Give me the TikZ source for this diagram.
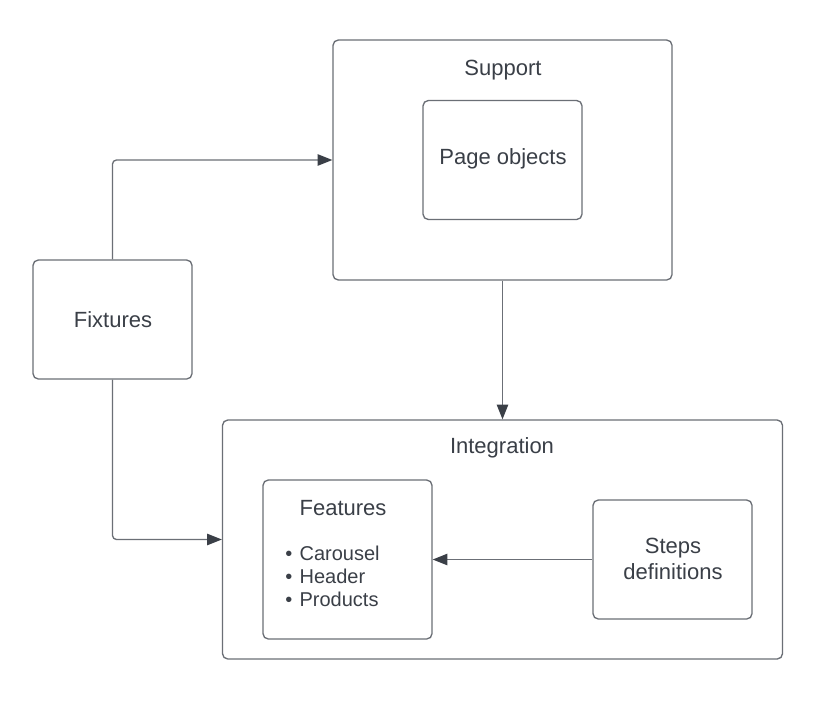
\documentclass[tikz,border=0pt]{standalone}
\usepackage{fontspec}
\setmainfont{Liberation Sans}
\usetikzlibrary{arrows.meta}
\definecolor{linec}{HTML}{6B6F76}
\definecolor{tipc}{HTML}{3A3F47}
\definecolor{textc}{HTML}{3A3F47}
\tikzset{
  box/.style={draw=linec, line width=1pt, rounded corners=4pt, rectangle, inner sep=0pt},
  conn/.style={draw=linec, line width=1pt, rounded corners=3pt, -{Triangle[length=11pt,width=8.5pt,fill=tipc,color=tipc]}},
  lbl/.style={text=textc, font=\fontsize{16.5}{19.5}\selectfont, inner sep=0pt, align=center},
  item/.style={text=textc, font=\fontsize{15}{17}\selectfont, inner sep=0pt, anchor=base west}
}
\begin{document}
\begin{tikzpicture}[x=0.75pt,y=-0.75pt]
\fill[white] (0,0) rectangle (823,700);
\useasboundingbox (0,0) rectangle (823,700);
% boxes
\node[box, minimum width=339*0.75pt, minimum height=240*0.75pt] (support) at (502.5,160) {};
\node[box, minimum width=159*0.75pt, minimum height=119*0.75pt] (page) at (502.5,160) {};
\node[box, minimum width=159*0.75pt, minimum height=119*0.75pt] (fixtures) at (112.5,319.5) {};
\node[box, minimum width=560*0.75pt, minimum height=239*0.75pt] (integration) at (502.5,539.5) {};
\node[box, minimum width=169*0.75pt, minimum height=159*0.75pt] (features) at (347.5,559.5) {};
\node[box, minimum width=159*0.75pt, minimum height=119*0.75pt] (steps) at (672.5,559.5) {};
% labels
\node[lbl] (supportlbl) at (503,70) {Support};
\node[lbl] (pagelbl) at (503,159) {Page objects};
\node[lbl] (fixtureslbl) at (113,320) {Fixtures};
\node[lbl] (integrationlbl) at (502,448) {Integration};
\node[lbl] (featureslbl) at (343,508) {Features};
\node[lbl] (stepslbl) at (673,559) {Steps\\definitions};
\node[item] (i1) at (285,560) {\textbullet\hspace{5.5pt}Carousel};
\node[item] (i2) at (285,583) {\textbullet\hspace{5.5pt}Header};
\node[item] (i3) at (285,606) {\textbullet\hspace{5.5pt}Products};
% connectors
\draw[conn] (fixtures.north) |- (support.west);
\draw[conn] (fixtures.south) |- (integration.west);
\draw[conn] (support.south) -- (integration.north);
\draw[conn] (steps.west) -- (features.east);
\end{tikzpicture}
\end{document}
